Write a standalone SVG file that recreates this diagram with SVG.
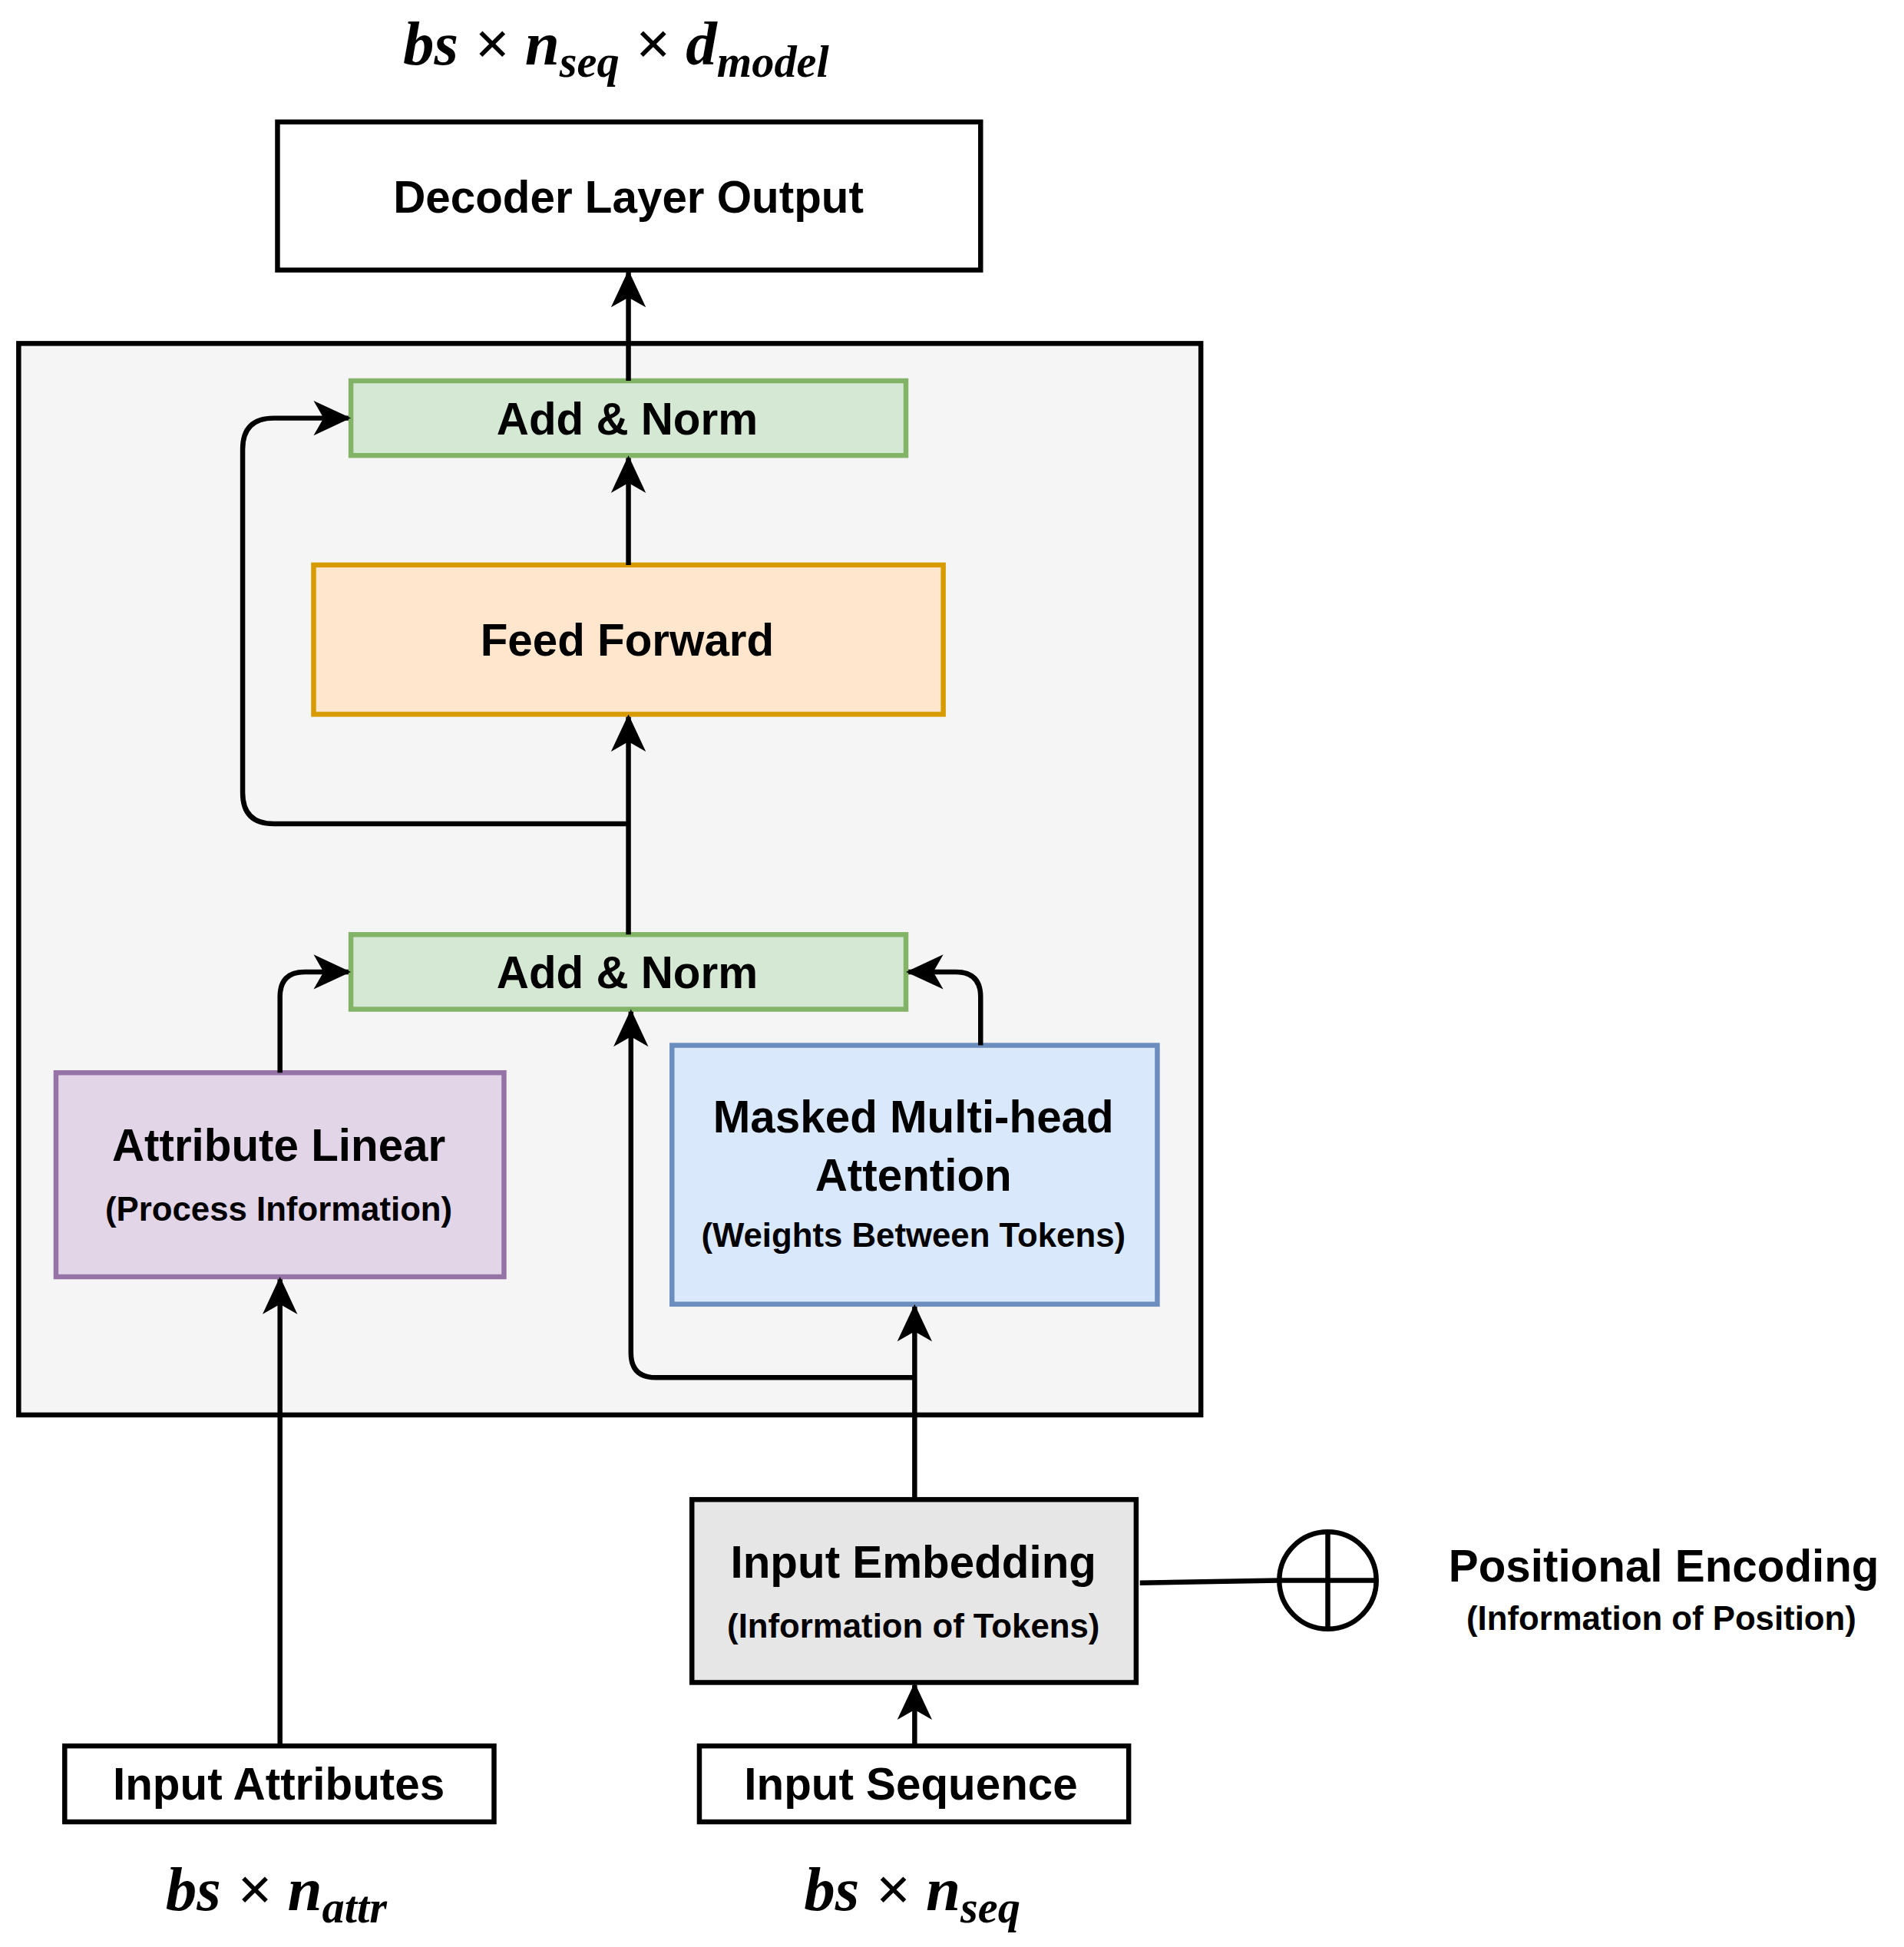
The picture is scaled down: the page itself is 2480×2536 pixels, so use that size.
<svg xmlns="http://www.w3.org/2000/svg" width="2480" height="2536" viewBox="0 0 2480 2536">
<defs>
<style>
.b{stroke-width:4}
.t{font-family:"Liberation Sans",Arial,sans-serif;font-weight:bold;fill:#000;text-anchor:middle}
.m{font-family:"Liberation Serif","DejaVu Serif",serif;font-weight:bold;font-style:italic;fill:#000;text-anchor:middle}
.c{fill:none;stroke:#000;stroke-width:4}
</style>
<marker id="a" markerUnits="userSpaceOnUse" markerWidth="34" markerHeight="34" viewBox="0 0 34 34" refX="30" refY="17" orient="auto">
<path d="M2,3 L32,17 L2,31 L10,17 Z" fill="#000"/>
</marker>
</defs>
<rect width="2480" height="2536" fill="#fff"/>
<g transform="scale(1.6209)">
<text class="m" x="495" y="52" font-size="50">bs × n<tspan font-size="36" dy="10">seq</tspan><tspan dy="-10"> × d</tspan><tspan font-size="36" dy="10">model</tspan></text>
<g id="decoder-output"><rect x="223" y="98" width="565" height="119" fill="#fff" stroke="#000" class="b"/><text class="t" x="505" y="171" font-size="36">Decoder Layer Output</text></g>
<g id="container"><rect x="15" y="276" width="950" height="861" fill="#f5f5f5" stroke="#000" class="b"/></g>
<g id="addnorm-top"><rect x="282" y="306" width="446" height="60" fill="#d5e8d4" stroke="#82b366" class="b"/><text class="t" x="504" y="349" font-size="36">Add &amp; Norm</text></g>
<g id="feed-forward"><rect x="252" y="454" width="506" height="120" fill="#ffe6cc" stroke="#d79b00" class="b"/><text class="t" x="504" y="527" font-size="36">Feed Forward</text></g>
<g id="addnorm-bottom"><rect x="282" y="751" width="446" height="60" fill="#d5e8d4" stroke="#82b366" class="b"/><text class="t" x="504" y="794" font-size="36">Add &amp; Norm</text></g>
<g id="attribute-linear"><rect x="45" y="862" width="360" height="164" fill="#e1d5e7" stroke="#9673a6" class="b"/><text class="t" x="224" y="933" font-size="36">Attribute Linear</text><text class="t" x="224" y="981" font-size="27">(Process Information)</text></g>
<g id="masked-mha"><rect x="540" y="840" width="390" height="208" fill="#dae8fc" stroke="#6c8ebf" class="b"/><text class="t" x="734" y="910" font-size="36">Masked Multi-head</text><text class="t" x="734" y="957" font-size="36">Attention</text><text class="t" x="734" y="1002" font-size="27">(Weights Between Tokens)</text></g>
<g id="input-embedding"><rect x="556" y="1205" width="357" height="147" fill="#e6e6e6" stroke="#000" class="b"/><text class="t" x="734" y="1268" font-size="36">Input Embedding</text><text class="t" x="734" y="1316" font-size="27">(Information of Tokens)</text></g>
<g id="positional-encoding"><circle cx="1067" cy="1270" r="39" fill="#fff" stroke="#000" class="b"/><path d="M1028,1270 H1106 M1067,1231 V1309" stroke="#000" class="b"/><text class="t" x="1337" y="1271" font-size="36">Positional Encoding</text><text class="t" x="1335" y="1310" font-size="27">(Information of Position)</text></g>
<g id="input-attributes"><rect x="52" y="1403" width="345" height="61" fill="#fff" stroke="#000" class="b"/><text class="t" x="224" y="1446" font-size="36">Input Attributes</text></g>
<g id="input-sequence"><rect x="562" y="1403" width="345" height="61" fill="#fff" stroke="#000" class="b"/><text class="t" x="732" y="1446" font-size="36">Input Sequence</text></g>
<text class="m" x="222" y="1535" font-size="50">bs × n<tspan font-size="36" dy="10">attr</tspan></text>
<text class="m" x="733" y="1535" font-size="50">bs × n<tspan font-size="36" dy="10">seq</tspan></text>
<g id="connectors">
<path class="c" d="M505,306 V219" marker-end="url(#a)"/>
<path class="c" d="M505,454 V368" marker-end="url(#a)"/>
<path class="c" d="M505,751 V576" marker-end="url(#a)"/>
<path class="c" d="M505,662 H220 Q195,662 195,637 V361 Q195,336 220,336 H280" marker-end="url(#a)"/>
<path class="c" d="M225,862 V801 Q225,781 245,781 H280" marker-end="url(#a)"/>
<path class="c" d="M788,840 V801 Q788,781 768,781 H730" marker-end="url(#a)"/>
<path class="c" d="M735,1205 V1050" marker-end="url(#a)"/>
<path class="c" d="M735,1107 H527 Q507,1107 507,1087 V813" marker-end="url(#a)"/>
<path class="c" d="M225,1403 V1028" marker-end="url(#a)"/>
<path class="c" d="M735,1403 V1354" marker-end="url(#a)"/>
<path class="c" d="M916,1272 L1028,1270"/>
</g>
</g>
</svg>
